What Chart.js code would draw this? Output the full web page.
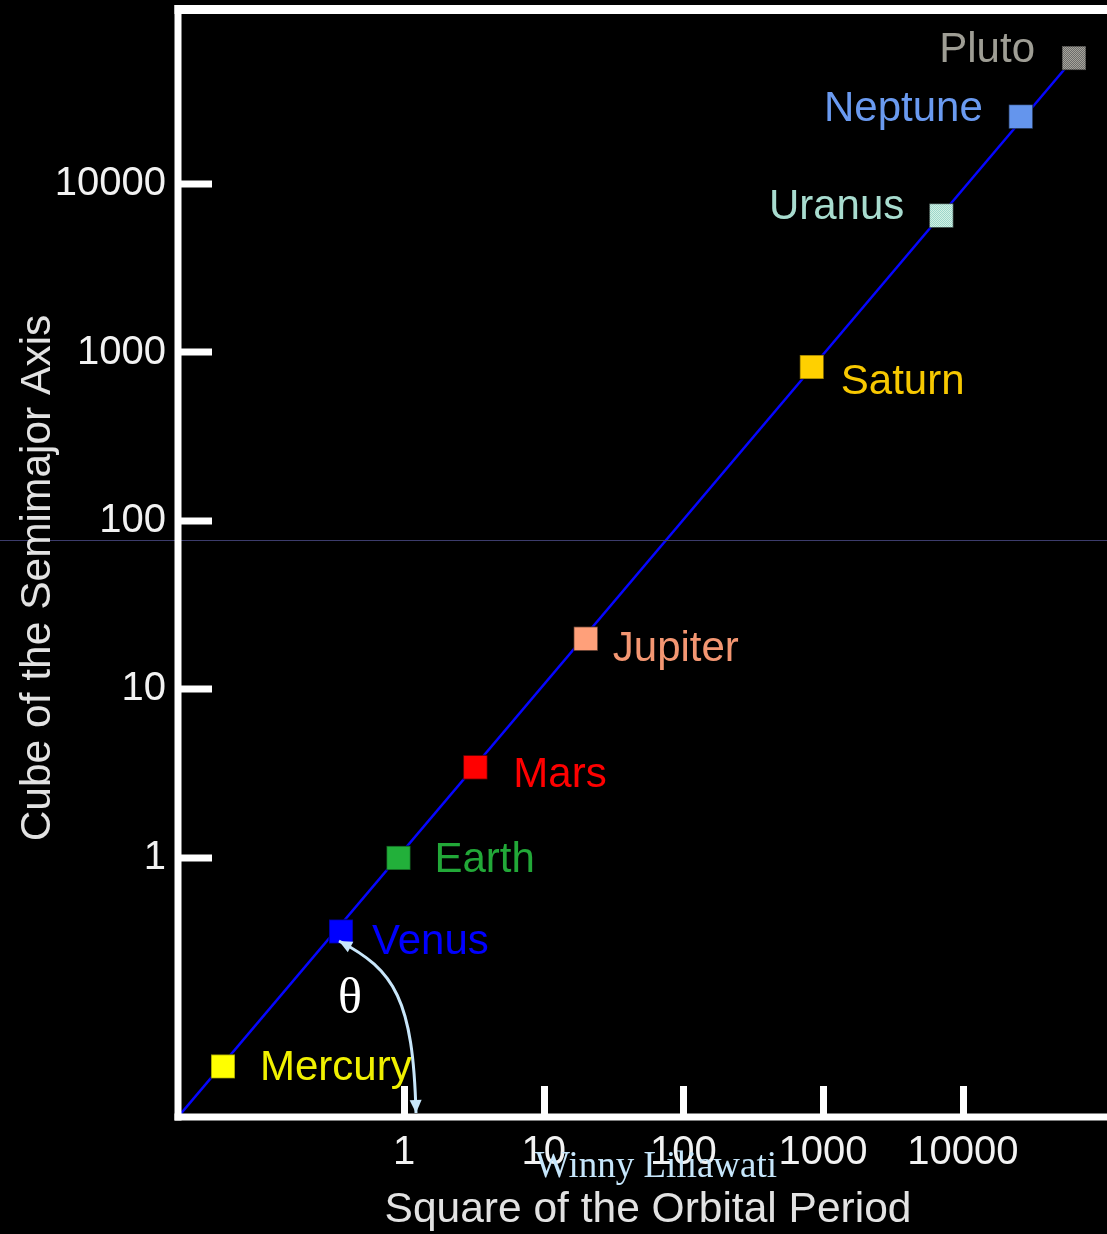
<!DOCTYPE html>
<html>
<head>
<meta charset="utf-8">
<script src="https://cdn.jsdelivr.net/npm/chart.js@4.4.1/dist/chart.umd.min.js"></script>
<style>
  html, body { margin: 0; padding: 0; background: #000; }
  canvas { display: block; }
</style>
</head>
<body>
<canvas id="kepler" width="1107" height="1234"></canvas>
<script>
// values (log-log)
const planets = ['Mercury', 'Venus', 'Earth', 'Mars', 'Jupiter', 'Saturn', 'Uranus', 'Neptune', 'Pluto'];
const periodSquared = [0.0506, 0.354, 0.913, 3.24, 20.0, 830, 7020, 26000, 62500];
const axisCubed = [0.0579, 0.366, 1.0, 3.45, 20.0, 820, 6490, 25100, 55900];
const fitLineX = [0.0241, 62500];
const fitLineY = [0.029, 55900];
const tickValues = [1, 10, 100, 1000, 10000];
const xTitle = 'Square of the Orbital Period';
const yTitle = 'Cube of the Semimajor Axis';

const FONT = '"Liberation Sans", Arial, Helvetica, sans-serif';
const SERIF = '"Liberation Serif", "Times New Roman", serif';

// two-tone dithered fills for Uranus and Pluto
function checker(a, b) {
  const c = document.createElement('canvas');
  c.width = c.height = 2;
  const g = c.getContext('2d');
  g.fillStyle = a; g.fillRect(0, 0, 2, 2);
  g.fillStyle = b; g.fillRect(0, 0, 1, 1); g.fillRect(1, 1, 1, 1);
  return g.createPattern(c, 'repeat');
}

const markerColors = ['#ffff00', '#0000ff', '#22b03a', '#ff0000', '#ffa07a', '#ffd000',
  checker('#d4f2e4', '#9cd6cc'), '#6495ed', checker('#6c6c6c', '#a6a49a')];
const labelColors = ['#f0f000', '#0000ff', '#22a838', '#ff0000', '#f39672', '#f7c800',
  '#a8dccf', '#6a9af0', '#9e9d94'];
// [dx, dy, align] of each name relative to its marker
const labelPlacement = [[37, 2, 'left'], [31, 11, 'left'], [36, 2, 'left'], [38, 8, 'left'],
  [27, 11, 'left'], [29, 15, 'left'], [-37, -8, 'right'], [-38, -7, 'right'], [-39, -8, 'right']];

const decorations = {
  id: 'decorations',
  beforeDraw(chart) {
    const { ctx, width, height } = chart;
    ctx.save();
    ctx.fillStyle = '#000';
    ctx.fillRect(0, 0, width, height);
    ctx.restore();
  },
  afterDraw(chart) {
    const { ctx, chartArea: a, scales: { x, y } } = chart;
    ctx.save();

    // stray scan line across the image
    ctx.fillStyle = '#3c3c6c';
    ctx.fillRect(0, 540, chart.width, 1);

    // frame
    ctx.fillStyle = '#fff';
    ctx.fillRect(a.left - 3.5, a.top - 5, a.right - a.left + 3.5, 9);
    ctx.fillRect(a.left - 3.5, a.top - 5, 7, a.bottom - a.top + 8.5);
    ctx.fillRect(a.left - 3.5, a.bottom - 3.5, a.right - a.left + 3.5, 7);

    // inward tick marks
    tickValues.forEach(v => {
      const px = Math.round(x.getPixelForValue(v));
      ctx.fillRect(px - 3, a.bottom - 31, 7, 31);
      const py = Math.round(y.getPixelForValue(v));
      ctx.fillRect(a.left, py - 3.5, 34, 7);
    });

    // axis titles
    ctx.fillStyle = '#e2e2e2';
    ctx.font = '42.5px ' + FONT;
    ctx.textAlign = 'center';
    ctx.textBaseline = 'alphabetic';
    ctx.fillText(xTitle, 648, 1222);
    ctx.save();
    ctx.translate(50, 578);
    ctx.rotate(-Math.PI / 2);
    ctx.fillText(yTitle, 0, 0);
    ctx.restore();

    // planet names
    ctx.font = '42px ' + FONT;
    ctx.textBaseline = 'middle';
    planets.forEach((name, i) => {
      const [dx, dy, align] = labelPlacement[i];
      ctx.fillStyle = labelColors[i];
      ctx.textAlign = align;
      ctx.fillText(name, x.getPixelForValue(periodSquared[i]) + dx, y.getPixelForValue(axisCubed[i]) + dy);
    });

    // angle annotation
    ctx.fillStyle = '#fff';
    ctx.font = '50px ' + SERIF;
    ctx.textAlign = 'center';
    ctx.fillText('θ', 350, 1000);

    const p0 = [339, 941], c1 = [395, 970], c2 = [413, 1000], p3 = [416, 1113];
    ctx.strokeStyle = '#c8e6fa';
    ctx.fillStyle = '#c8e6fa';
    ctx.lineWidth = 3;
    ctx.beginPath();
    ctx.moveTo(p0[0], p0[1]);
    ctx.bezierCurveTo(c1[0], c1[1], c2[0], c2[1], p3[0], p3[1]);
    ctx.stroke();
    arrowHead(ctx, p0, c1);
    arrowHead(ctx, p3, c2);

    // credit
    ctx.fillStyle = '#c6e6fb';
    ctx.font = '37px ' + SERIF;
    ctx.textAlign = 'left';
    ctx.textBaseline = 'alphabetic';
    ctx.fillText('Winny Liliawati', 535, 1177);
    ctx.restore();
  }
};

function arrowHead(ctx, tip, from) {
  const ang = Math.atan2(tip[1] - from[1], tip[0] - from[0]);
  const len = 13, half = 6;
  ctx.beginPath();
  ctx.moveTo(tip[0], tip[1]);
  ctx.lineTo(tip[0] - len * Math.cos(ang) + half * Math.sin(ang), tip[1] - len * Math.sin(ang) - half * Math.cos(ang));
  ctx.lineTo(tip[0] - len * Math.cos(ang) - half * Math.sin(ang), tip[1] - len * Math.sin(ang) + half * Math.cos(ang));
  ctx.closePath();
  ctx.fill();
}

const logAxis = (min, max, pad, fit) => ({
  type: 'logarithmic',
  min, max,
  bounds: 'data',
  grid: { display: false, drawTicks: false },
  border: { display: false },
  afterBuildTicks: s => { s.ticks = tickValues.map(v => ({ value: v })); },
  afterFit: fit,
  ticks: {
    color: '#f2f2f2',
    padding: pad,
    font: { family: FONT, size: 40 },
    callback: v => String(v),
  },
});

const xAxis = logAxis(0.0241, 107700, 12, s => {
  s.height = 117; s.paddingLeft = 0; s.paddingRight = 0;
});
const yAxis = logAxis(0.029, 107800, 12, s => {
  s.width = 178; s.paddingTop = 0; s.paddingBottom = 0;
});

new Chart(document.getElementById('kepler'), {
  type: 'scatter',
  data: {
    datasets: [{
      label: 'Planets',
      data: planets.map((p, i) => ({ x: periodSquared[i], y: axisCubed[i] })),
      pointStyle: 'rect',
      pointRadius: 17,
      pointHoverRadius: 17,
      backgroundColor: markerColors,
      borderColor: 'rgba(0,0,0,0.45)',
      borderWidth: 1.5,
    }, {
      label: 'Fit',
      data: fitLineX.map((v, i) => ({ x: v, y: fitLineY[i] })),
      showLine: true,
      borderColor: '#0606ff',
      borderWidth: 2.5,
      pointRadius: 0,
    }],
  },
  options: {
    responsive: false,
    animation: false,
    events: [],
    layout: { autoPadding: false, padding: { top: 10, right: 0, bottom: 0, left: 0 } },
    plugins: { legend: { display: false }, tooltip: { enabled: false } },
    scales: { x: xAxis, y: yAxis },
  },
  plugins: [decorations],
});
</script>
</body>
</html>
